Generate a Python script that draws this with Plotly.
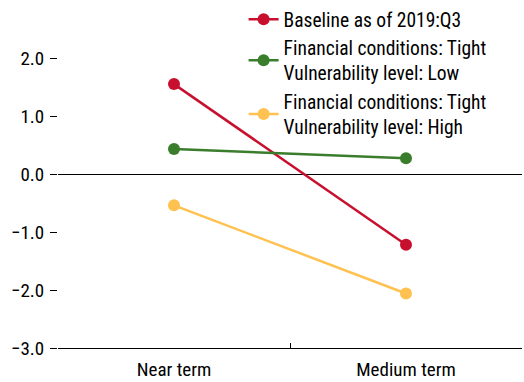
import plotly.graph_objects as go

# Horizons on the category axis
horizons = ["Near term", "Medium term"]

# Series values (percent)
baseline = [1.55, -1.22]
tight_low = [0.43, 0.27]
tight_high = [-0.54, -2.06]

series_names = [
    "Baseline as of 2019:Q3",
    "Financial conditions: Tight<br>Vulnerability level: Low",
    "Financial conditions: Tight<br>Vulnerability level: High",
]
series_colors = ["#C8102E", "#3A7D2C", "#FFC14F"]

# Y axis ticks
y_tickvals = [-3, -2, -1, 0, 1, 2]
y_ticktext = ["\u22123.0", "\u22122.0", "\u22121.0", "0.0", "1.0", "2.0"]

FONT = "Roboto Condensed, Arial Narrow, sans-serif"

fig = go.Figure()
for name, vals, col in zip(series_names, [baseline, tight_low, tight_high], series_colors):
    fig.add_trace(go.Scatter(
        x=horizons, y=vals, name=name, mode="lines+markers",
        line=dict(color=col, width=2.5),
        marker=dict(color=col, size=12),
    ))

fig.update_layout(
    width=524, height=382,
    margin=dict(l=58, r=2, t=0, b=34),
    paper_bgcolor="white", plot_bgcolor="white",
    font=dict(family=FONT, size=19, color="black"),
    showlegend=True,
    legend=dict(
        x=0.40, y=1.0, xanchor="left", yanchor="top",
        bgcolor="rgba(0,0,0,0)", borderwidth=0,
        tracegroupgap=0, itemwidth=30,
        font=dict(family=FONT, size=19.5, color="black"),
    ),
)

fig.update_xaxes(
    type="category", range=[-0.5, 1.5],
    showgrid=False, showline=True, linecolor="black", linewidth=1,
    ticks="inside", tickson="boundaries", ticklen=5, tickcolor="black",
    tickfont=dict(family=FONT, size=19), ticklabelstandoff=4,
)
fig.update_yaxes(
    range=[-3, 3], tickvals=y_tickvals, ticktext=y_ticktext,
    showgrid=False, showline=False,
    zeroline=True, zerolinecolor="black", zerolinewidth=1,
    ticks="outside", ticklen=7, tickcolor="black",
    tickfont=dict(family=FONT, size=19), ticklabelstandoff=2,
)

fig.write_html("out.html")
